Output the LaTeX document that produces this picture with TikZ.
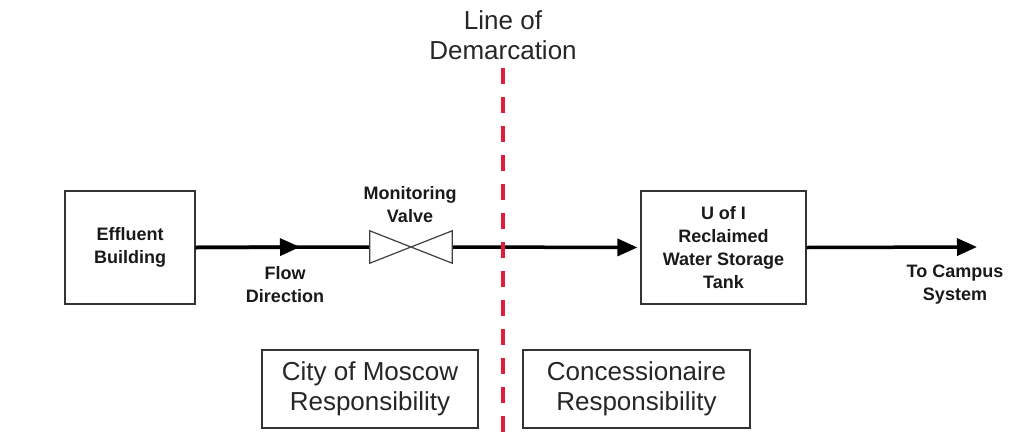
\documentclass[tikz,border=0pt]{standalone}
\usepackage{fontspec}
\setmainfont{Liberation Sans}
\usetikzlibrary{arrows.meta}
\definecolor{demarcred}{RGB}{224,30,60}

\begin{document}
\begin{tikzpicture}[x=1pt, y=-1pt,
        box/.style={draw=black!80, line width=1.2pt, inner sep=0pt, align=center, text=black!90, font=\bfseries\fontsize{18}{23}\selectfont},
        bigbox/.style={draw=black!80, line width=1.2pt, inner sep=0pt, align=center, text=black!85, font=\fontsize{26}{30}\selectfont},
        small/.style={align=center, text=black!90, font=\bfseries\fontsize{18}{23}\selectfont},
        big/.style={align=center, text=black!85, font=\fontsize{26}{30}\selectfont},
        pipe/.style={line width=3.5pt},
        flow/.style={pipe, -{Triangle[length=20pt, width=17pt]}},
        demarc/.style={demarcred, line width=3.5pt, dash pattern=on 16pt off 13pt}]
    \useasboundingbox (0,0) rectangle (1029,445);

    \node[box, minimum width=130pt, minimum height=113pt] (E) at (130, 247.5) {Effluent\\Building};
    \node[box, minimum width=165pt, minimum height=113pt] (T) at (723.5, 247.5) {U of I\\Reclaimed\\Water Storage\\Tank};
    \node[minimum width=82pt, minimum height=32pt, inner sep=0pt] (V) at (411, 247) {};
    \coordinate (F) at (300, 247);
    \coordinate (C) at (977, 247);

    \draw[pipe] (E.east) -- (V.west);
    \draw[flow] (E.east) -- (F);
    \draw[flow, shorten >=3pt] (V.east) -- (T.west);
    \draw[flow] (T.east) -- (C);
    \draw[black!75, line width=1.2pt, fill=white] (V.north west) -- (V.south east) -- (V.north east) -- (V.south west) -- cycle;

    \node[small] (fd) at (285, 284.5) {Flow\\Direction};
    \node[small] (mv) at (410, 204.5) {Monitoring\\Valve};
    \node[small] (cs) at (955, 284.5) {To Campus\\System};

    \node[big] (L) at (503, 35) {Line of\\Demarcation};
    \node[bigbox, minimum width=216pt, minimum height=78pt] (CM) at (370, 389) {City of Moscow\\Responsibility};
    \node[bigbox, minimum width=227pt, minimum height=78pt] (CR) at (636.5, 389) {Concessionaire\\Responsibility};

    \coordinate (D1) at (503, 68);
    \coordinate (D2) at (503, 445);
    \draw[demarc] (D1) -- (D2);

\end{tikzpicture}
\end{document}
